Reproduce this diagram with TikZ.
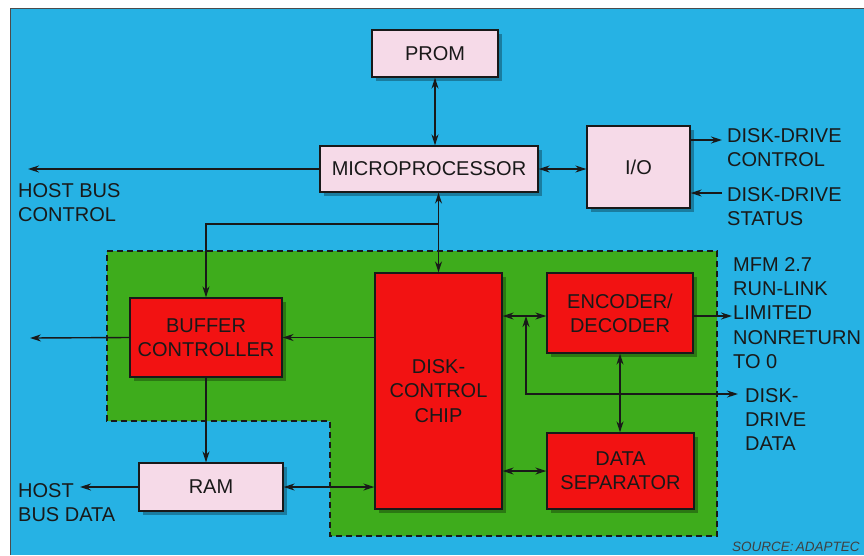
\documentclass[tikz,border=0pt]{standalone}
\usepackage{fontspec}
\setmainfont{Liberation Sans}
\usetikzlibrary{arrows.meta,shadows,calc}
\definecolor{bgblue}{RGB}{38,178,228}
\definecolor{grn}{RGB}{62,172,28}
\definecolor{boxred}{RGB}{242,18,18}
\definecolor{boxpink}{RGB}{246,218,232}
\definecolor{ink}{RGB}{25,25,25}
\newcommand\bfont{\fontsize{20}{24.3}\selectfont}
\tikzset{
  blk/.style={draw=ink, line width=1.3pt, inner sep=0pt, align=center, font=\bfont, text=ink,
    drop shadow={shadow xshift=4pt, shadow yshift=-4pt, opacity=0.3, fill=black}},
  pinkbox/.style={blk, fill=boxpink},
  redbox/.style={blk, fill=boxred},
  lbl/.style={inner sep=0pt, align=left, font=\bfont, text=ink, anchor=north west},
  conn/.style={draw=ink, line width=1.4pt},
  >={Stealth[length=11pt,width=7pt]}
}
\begin{document}
\begin{tikzpicture}[x=1pt,y=-1pt]
\useasboundingbox (0,0) rectangle (864,555);
\fill[white] (0,0) rectangle (864,555);
\fill[bgblue] (10,8) rectangle (864,555);
\draw[black!70, line width=1pt] (10,555) -- (10,8) -- (864,8);
% green area
\fill[grn] (107,251) -- (717,251) -- (717,536) -- (330,536) -- (330,421) -- (107,421) -- cycle;
\draw[ink, line width=1.2pt, dash pattern=on 6pt off 4pt] (107,251) -- (717,251) -- (717,536) -- (330,536) -- (330,421) -- (107,421) -- cycle;
% boxes
\node[pinkbox, minimum width=126pt, minimum height=47pt] (prom) at (435,53.5) {PROM};
\node[pinkbox, minimum width=218pt, minimum height=46pt] (micro) at (429,169) {MICROPROCESSOR};
\node[pinkbox, minimum width=103pt, minimum height=82pt] (io) at (638.5,167) {I/O};
\node[redbox, minimum width=152pt, minimum height=79pt] (buf) at (206,337.5) {BUFFER\\CONTROLLER};
\node[pinkbox, minimum width=144pt, minimum height=48pt] (ram) at (211,487) {RAM};
\node[redbox, minimum width=127pt, minimum height=236pt] (chip) at (438.5,391) {DISK-\\CONTROL\\CHIP};
\node[redbox, minimum width=146pt, minimum height=80pt] (enc) at (620,313) {ENCODER/\\DECODER};
\node[redbox, minimum width=147pt, minimum height=76pt] (sep) at (620.5,471) {DATA\\SEPARATOR};
% coordinates
\coordinate (hbc) at (28,169);
\coordinate (ddc) at (722,140);
\coordinate (dds) at (722,193);
\coordinate (j) at (437,224);
\coordinate (bl) at (30,338);
\coordinate (hbd) at (80,487);
\coordinate (ce) at (0,316);
\coordinate (mfm) at (732,316);
\coordinate (dj) at (526,394);
\coordinate (dd) at (738,394);
% connectors
\draw[conn,<->] (prom.south) -- (prom.south |- micro.north);
\draw[conn,->] (micro.west) -- (hbc);
\draw[conn,<->] (micro.east) -- (micro.east -| io.west);
\draw[conn,->] (ddc -| io.east) -- (ddc);
\draw[conn,->] (dds) -- (dds -| io.east);
\draw[conn,<->] (chip.north |- micro.south) -- (chip.north);
\draw[conn,->] (j -| chip.north) -| (buf.north);
\draw[conn,->] (buf.east -| chip.west) -- (buf.east);
\draw[conn,->] (buf.west) -- (bl);
\draw[conn,->] (buf.south) -- (buf.south |- ram.north);
\draw[conn,->] (ram.west) -- (hbd);
\draw[conn,<->] (ram.east) -- (ram.east -| chip.west);
\draw[conn,<->] (ce -| chip.east) -- (ce -| enc.west);
\draw[conn,->] (ce -| enc.east) -- (mfm);
\draw[conn,<->] (enc.south) -- (enc.south |- sep.north);
\draw[conn,<->] (sep.west -| chip.east) -- (sep.west);
\draw[conn,<->] (dj |- ce) -- (dj) -- (dd);
% labels
\node[lbl] (l1) at (18,183) {HOST BUS\\CONTROL};
\node[lbl] (l2) at (727,128) {DISK-DRIVE\\CONTROL};
\node[lbl] (l3) at (727,187) {DISK-DRIVE\\STATUS};
\node[lbl] (l4) at (733,257) {MFM 2.7\\RUN-LINK\\LIMITED\\NONRETURN\\TO 0};
\node[lbl] (l5) at (745,388) {DISK-\\DRIVE\\DATA};
\node[lbl] (l6) at (18,483) {HOST\\BUS DATA};
\node[inner sep=0pt, anchor=north west, font=\fontsize{13.5}{16}\selectfont\itshape, text=black!75] (src) at (732,542) {SOURCE:\,ADAPTEC};
\end{tikzpicture}
\end{document}
